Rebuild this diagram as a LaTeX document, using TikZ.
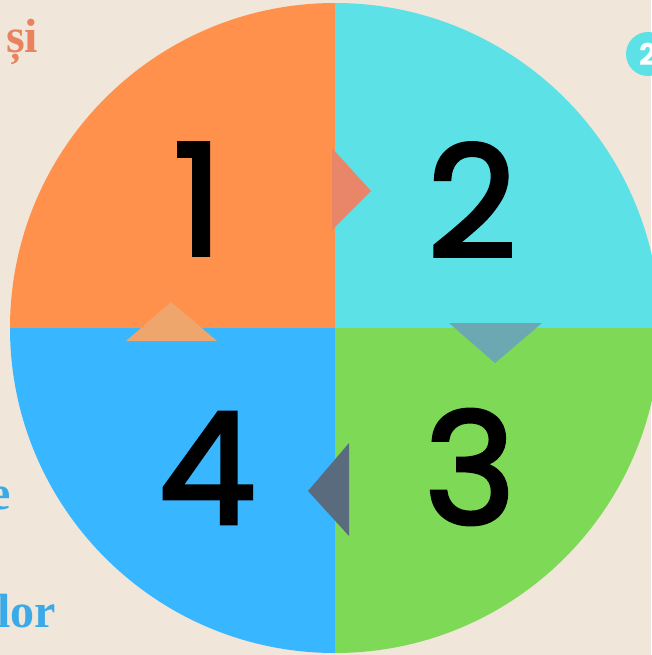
\documentclass[tikz,border=0pt]{standalone}
\usepackage{fontspec}
\setmainfont{Liberation Serif}
\newfontfamily\digitfont[FakeBold=2.5]{Poppins}
\newfontfamily\badgefont{Poppins}
\usetikzlibrary{positioning}

\definecolor{paper}{HTML}{F0E6D9}
\definecolor{qorange}{HTML}{FF914D}
\definecolor{qcyan}{HTML}{5CE1E6}
\definecolor{qgreen}{HTML}{7ED957}
\definecolor{qblue}{HTML}{38B6FF}
\definecolor{headA}{HTML}{E9866A}
\definecolor{headB}{HTML}{6BA8B1}
\definecolor{headC}{HTML}{5A6B7E}
\definecolor{headD}{HTML}{EEA66C}
\definecolor{inkorange}{HTML}{E9825F}
\definecolor{inkblue}{HTML}{3BAAE8}

\begin{document}
\begin{tikzpicture}[
    x=1pt, y=-1pt,
    num/.style={font=\digitfont\fontsize{155}{155}\selectfont, text=black, inner sep=0pt},
    sidetext/.style={font=\bfseries\fontsize{48}{48}\selectfont, inner sep=0pt, anchor=base west},
    badge/.style={circle, fill=qcyan, minimum size=44pt, inner sep=0pt, text=white,
                  font=\badgefont\bfseries\fontsize{30}{30}\selectfont},
]
    \fill [paper] (0,0) rectangle (651,655);
    \useasboundingbox (0,0) rectangle (651,655);

    % cut-off texts at the border
    \node [sidetext, text=inkorange] (si) at (6,53) {și};
    \node [sidetext, text=inkblue] (e) at (-11,509) {e};
    \node [sidetext, text=inkblue] (lor) at (-3,627) {lor};
    \node [badge] (badge) at (648,54) {2};

    % quadrants
    \coordinate (c) at (335,328);
    \begin{scope}
        \clip (c) circle [radius=325];
        \fill [qorange] (0,0) rectangle (c);
        \fill [qcyan] (c) rectangle (700,0);
        \fill [qgreen] (c) rectangle (700,700);
        \fill [qblue] (c) rectangle (0,700);
    \end{scope}

    \node [num] (one) at (198,199) {1};
    \node [num] (two) at (472,200) {2};
    \node [num] (three) at (470,467) {3};
    \node [num] (four) at (207,468) {4};

    % arrow heads between quadrants
    \fill [headA] (332,148) -- (371,191) -- (332,230) -- cycle;
    \fill [headB] (449,323) -- (542,323) -- (495,363) -- cycle;
    \fill [headC] (349,443) -- (349,536) -- (308,491) -- cycle;
    \fill [headD] (126,341) -- (171,302) -- (217,341) -- cycle;

\end{tikzpicture}
\end{document}
